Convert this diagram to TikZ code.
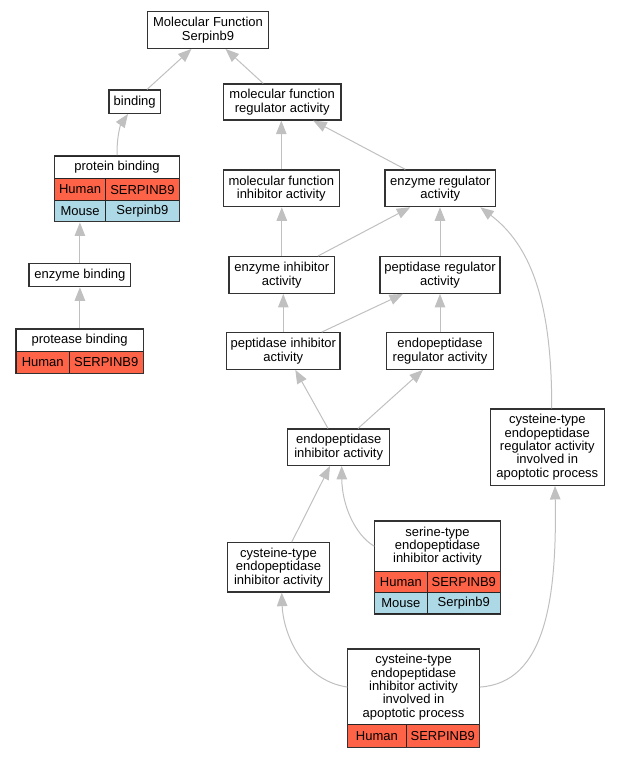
\documentclass[tikz,border=0pt]{standalone}
\usepackage{fontspec}
\setmainfont{Liberation Sans}
\usetikzlibrary{arrows.meta,fit}

\definecolor{tomato}{RGB}{255,99,71}
\definecolor{lblue}{RGB}{173,216,230}
\definecolor{silver}{RGB}{192,192,192}

\tikzset{
  box/.style={draw=black!80, line width=1.2pt, fill=white, inner sep=0pt, align=center,
    font=\fontsize{13}{13.3}\selectfont},
  cell/.style={draw=black!85, line width=0.8pt, inner sep=0pt, anchor=north west, align=center,
    font=\fontsize{13}{13.3}\selectfont},
  head/.style={cell, fill=white},
  human/.style={cell, fill=tomato},
  mouse/.style={cell, fill=lblue},
  outer/.style={draw=black!80, line width=1.2pt, inner sep=0pt},
  edge/.style={draw=silver, line width=1pt, -{Triangle[length=13.5pt,width=10.5pt]}}
}

\begin{document}
\begin{tikzpicture}[x=1pt, y=-1pt, >=Triangle]

  \useasboundingbox (0,0) rectangle (619,757);

  % plain terms
  \node (mf) at (208,30) [box, minimum width=120.6pt, minimum height=36.6pt] {Molecular Function\\Serpinb9};
  \node (bind) at (134.7,101.7) [box, minimum width=51.3pt, minimum height=23.3pt] {binding};
  \node (mfra) at (282.2,102) [box, minimum width=117.7pt, minimum height=36pt] {molecular function\\regulator activity};
  \node (mfia) at (281.3,188.3) [box, minimum width=116pt, minimum height=36.7pt] {molecular function\\inhibitor activity};
  \node (era) at (440.3,188.3) [box, minimum width=110.7pt, minimum height=36.7pt] {enzyme regulator\\activity};
  \node (enzb) at (79.9,275) [box, minimum width=101.7pt, minimum height=23.4pt] {enzyme binding};
  \node (eia) at (281.8,275) [box, minimum width=105.7pt, minimum height=36.6pt] {enzyme inhibitor\\activity};
  \node (pra) at (440,275) [box, minimum width=120pt, minimum height=36.6pt] {peptidase regulator\\activity};
  \node (pia) at (283.3,351) [box, minimum width=113.3pt, minimum height=36.6pt] {peptidase inhibitor\\activity};
  \node (epra) at (440,351) [box, minimum width=106.6pt, minimum height=36.6pt] {endopeptidase\\regulator activity};
  \node (epia) at (338.7,447.2) [box, minimum width=102pt, minimum height=36.3pt] {endopeptidase\\inhibitor activity};
  \node (ctra) at (547.3,447.2) [box, minimum width=114pt, minimum height=76.3pt] {cysteine-type\\endopeptidase\\regulator activity\\involved in\\apoptotic process};
  \node (ctia) at (278.5,567.4) [box, minimum width=101.6pt, minimum height=49.3pt] {cysteine-type\\endopeptidase\\inhibitor activity};

  % terms with gene tables
  \node (pbh) at (54.3,155.7) [head, minimum width=124.7pt, minimum height=22.6pt] {protein binding};
  \node (pbh1) at (54.3,178.3) [human, minimum width=50.7pt, minimum height=21.7pt] {Human};
  \node (pbh2) at (105,178.3) [human, minimum width=74pt, minimum height=21.7pt] {SERPINB9};
  \node (pbm1) at (54.3,200) [mouse, minimum width=50.7pt, minimum height=21pt] {Mouse};
  \node (pbm2) at (105,200) [mouse, minimum width=74pt, minimum height=21pt] {Serpinb9};
  \node (pb) [outer, fit=(pbh)(pbm2)] {};

  \node (prh) at (15.7,329) [head, minimum width=127pt, minimum height=22.3pt] {protease binding};
  \node (prh1) at (15.7,351.3) [human, minimum width=53.3pt, minimum height=21.4pt] {Human};
  \node (prh2) at (69,351.3) [human, minimum width=73.7pt, minimum height=21.4pt] {SERPINB9};
  \node (prb) [outer, fit=(prh)(prh2)] {};

  \node (sih) at (374.3,521) [head, minimum width=125.7pt, minimum height=49.7pt] {serine-type\\endopeptidase\\inhibitor activity};
  \node (sih1) at (374.3,570.7) [human, minimum width=52.4pt, minimum height=21pt] {Human};
  \node (sih2) at (426.7,570.7) [human, minimum width=73.3pt, minimum height=21pt] {SERPINB9};
  \node (sim1) at (374.3,591.7) [mouse, minimum width=52.4pt, minimum height=21.6pt] {Mouse};
  \node (sim2) at (426.7,591.7) [mouse, minimum width=73.3pt, minimum height=21.6pt] {Serpinb9};
  \node (sia) [outer, fit=(sih)(sim2)] {};

  \node (cah) at (347.3,649) [head, minimum width=131.7pt, minimum height=75.3pt] {cysteine-type\\endopeptidase\\inhibitor activity\\involved in\\apoptotic process};
  \node (cah1) at (347.3,724.3) [human, minimum width=58.4pt, minimum height=22.4pt] {Human};
  \node (cah2) at (405.7,724.3) [human, minimum width=73.3pt, minimum height=22.4pt] {SERPINB9};
  \node (cap) [outer, fit=(cah)(cah2)] {};

  % is-a links
  \draw [edge] ([xshift=12.3pt]bind.north) -- ([xshift=-16.5pt]mf.south);
  \draw [edge] ([xshift=-19pt]mfra.north) -- ([xshift=17.5pt]mf.south);
  \draw [edge] (pb.north) .. controls (116.7,135) and (121,124) .. ([xshift=-6.7pt]bind.south);
  \draw [edge] (enzb.north) -- (enzb.north |- pb.south);
  \draw [edge] (enzb.south |- prb.north) -- (enzb.south);
  \draw [edge] (mfia.north) -- (mfia.north |- mfra.south);
  \draw [edge] ([xshift=-35pt]era.north) -- ([xshift=31pt]mfra.south);
  \draw [edge] (eia.north) -- (eia.north |- mfia.south);
  \draw [edge] ([xshift=36pt]eia.north) -- ([xshift=-30pt]era.south);
  \draw [edge] (pra.north) -- (pra.north |- era.south);
  \draw [edge] (pia.north) -- (pia.north |- eia.south);
  \draw [edge] ([xshift=38.4pt]pia.north) -- ([xshift=-37pt]pra.south);
  \draw [edge] (epra.north) -- (epra.north |- pra.south);
  \draw [edge] ([xshift=-10.7pt]epia.north) -- ([xshift=12pt]pia.south);
  \draw [edge] ([xshift=19.3pt]epia.north) -- ([xshift=-17pt]epra.south);
  \draw [edge] ([xshift=4.4pt]ctra.north) .. controls (552,300) and (530,245) .. ([xshift=-16pt]era.south east);
  \draw [edge] ([xshift=13.2pt]ctia.north) -- ([xshift=-8.7pt]epia.south);
  \draw [edge] (sih.west) .. controls (355,535) and (342,505) .. ([xshift=3pt]epia.south);
  \draw [edge] (cah.west) .. controls (300,680) and (283,630) .. ([xshift=3.2pt]ctia.south);
  \draw [edge] (cah.east) .. controls (545,683) and (557,600) .. ([xshift=7.7pt]ctra.south);

\end{tikzpicture}
\end{document}
